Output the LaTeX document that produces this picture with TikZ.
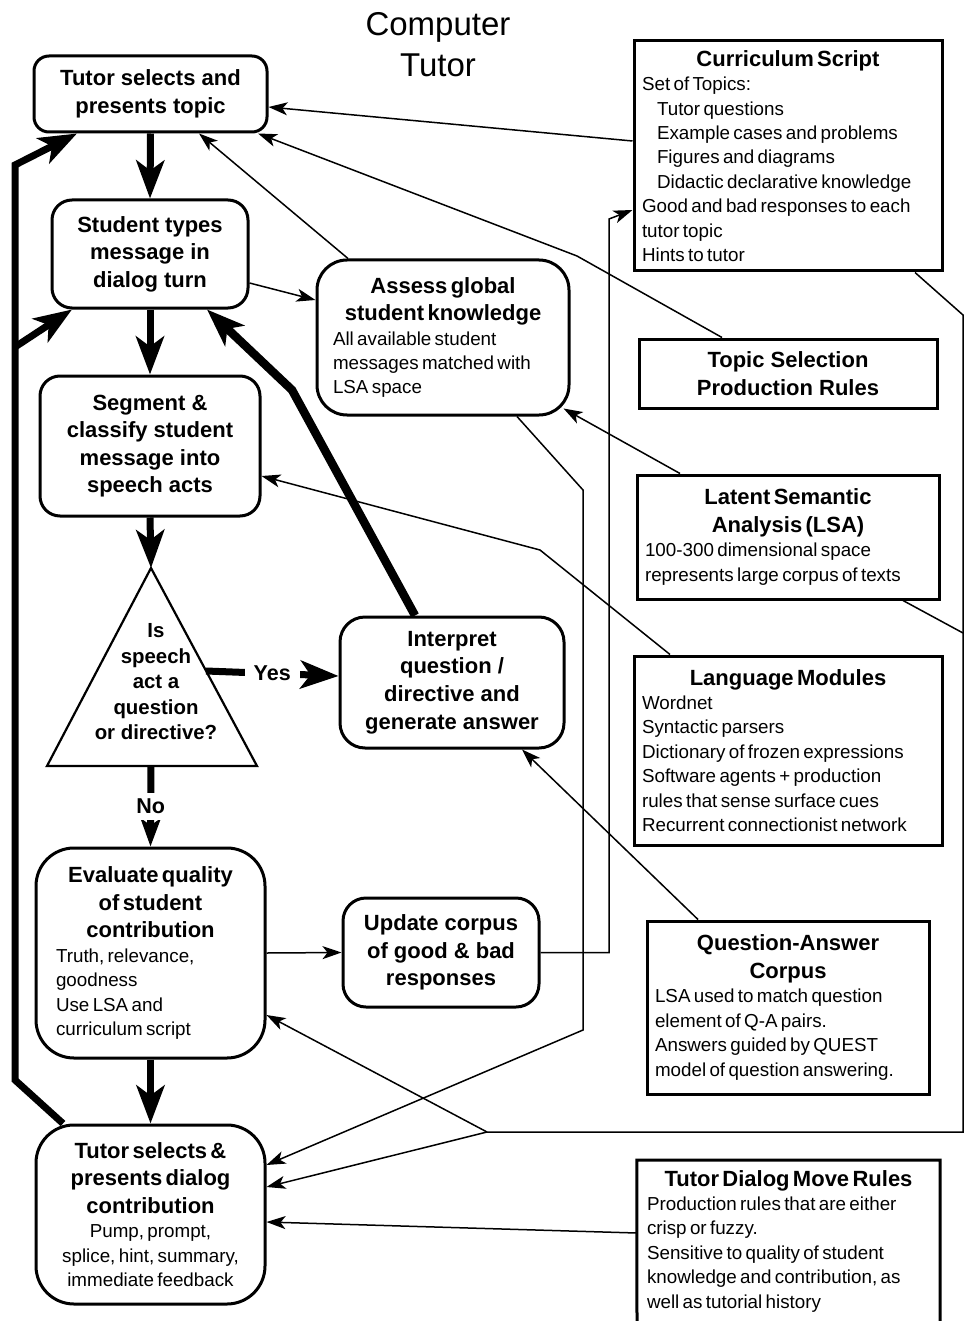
\documentclass[tikz,border=0pt]{standalone}
\usepackage{fontspec}
\setmainfont{Liberation Sans}
\usetikzlibrary{arrows.meta}
\setlength\parindent{0pt}
\newcommand\bsz{\fontsize{22}{27.6}\selectfont\bfseries}
\newcommand\ssz{\fontsize{18.8}{24.4}\selectfont\mdseries}
\newcommand\tsz{\fontsize{20.4}{25.5}\selectfont\bfseries}
\begin{document}
\begin{tikzpicture}[x=1pt,y=-1pt,
  rbox/.style={draw, line width=3pt, inner sep=0pt, align=center, font=\bsz},
  mbox/.style={draw, line width=3pt, inner ysep=0pt, align=left},
  flow/.style={line width=7pt, -{Stealth[length=38pt,width=28pt,inset=10pt]}},
  link/.style={line width=1.5pt, -{Stealth[length=19pt,width=13pt,inset=5pt]}},
  plain/.style={line width=1.5pt},
  lbl/.style={fill=white, font=\fontsize{21.5}{26}\selectfont\bfseries, inner xsep=9pt, inner ysep=6pt},
]
\useasboundingbox (0,0) rectangle (965,1321);

% title
\node[align=center, font=\fontsize{33}{41}\selectfont] (title) at (438,45) {Computer\\Tutor};

% left flow boxes
\node[rbox, rounded corners=15pt, minimum width=233pt, minimum height=76pt] (topic) at (150.5,94) {Tutor selects and\\presents topic};
\node[rbox, rounded corners=20pt, minimum width=196pt, minimum height=108pt] (stud) at (150,254) {Student types\\message in\\dialog turn};
\node[rbox, rounded corners=20pt, minimum width=220pt, minimum height=140pt] (seg) at (150,446) {Segment \&\\classify student\\message into\\speech acts};
\node[rbox, rounded corners=25pt, minimum width=224pt, minimum height=131pt] (interp) at (452,682.5) {Interpret\\question /\\directive and\\generate answer};
\node[rbox, rounded corners=23pt, minimum width=196pt, minimum height=109pt] (upd) at (441,952.5) {Update corpus\\of good \& bad\\responses};

\node[mbox, rounded corners=30pt, minimum width=252pt, minimum height=155pt, inner xsep=16pt, text width=220pt] (assess) at (443,337.5)
  {{\centering\bsz Assess global\\student knowledge\par}\ssz All available student\\messages matched with\\LSA space\par};
\node[mbox, rounded corners=38pt, minimum width=229pt, minimum height=210pt, inner xsep=20pt, text width=189pt] (eval) at (150.5,953)
  {{\centering\bsz Evaluate quality\\of student\\contribution\par}\ssz Truth, relevance,\\goodness\\Use LSA and\\curriculum script\par};
\node[draw, line width=3pt, rounded corners=38pt, minimum width=229pt, minimum height=179pt, inner xsep=10pt, inner ysep=0pt, text width=209pt, align=center] (tds) at (150.5,1214.5)
  {{\bsz Tutor selects \&\\presents dialog\\contribution\par}\ssz Pump, prompt,\\splice, hint, summary,\\immediate feedback\par};

% triangle
\coordinate (triA) at (151,568);
\coordinate (triL) at (47,766);
\coordinate (triR) at (257,766);
\coordinate (triB) at (151,766);
\coordinate (triY) at (206,671);
\draw[line width=2.2pt] (triA) -- (triR) -- (triL) -- cycle;
\node[align=center, font=\tsz] (qtext) at (156,682) {Is\\speech\\act a\\question\\or directive?};

% right boxes
\node[mbox, minimum width=308pt, minimum height=230pt, inner xsep=8pt, text width=292pt] (cur) at (788,156)
  {{\centering\bsz Curriculum Script\par}\ssz Set of Topics:\\\hspace*{15pt}Tutor questions\\\hspace*{15pt}Example cases and problems\\\hspace*{15pt}Figures and diagrams\\\hspace*{15pt}Didactic declarative knowledge\\Good and bad responses to each\\tutor topic\\Hints to tutor\par};
\node[rbox, minimum width=298pt, minimum height=69pt] (tsp) at (788,373.5) {Topic Selection\\Production Rules};
\node[mbox, minimum width=302pt, minimum height=124pt, inner xsep=8pt, text width=286pt] (lsa) at (788,537)
  {{\centering\bsz Latent Semantic\\Analysis (LSA)\par}\ssz 100-300 dimensional space\\represents large corpus of texts\par};
\node[mbox, minimum width=308pt, minimum height=189pt, inner xsep=8pt, text width=292pt] (lang) at (788,750.5)
  {{\centering\bsz Language Modules\par}\ssz Wordnet\\Syntactic parsers\\Dictionary of frozen expressions\\Software agents + production\\rules that sense surface cues\\Recurrent connectionist network\par};
\node[mbox, minimum width=282pt, minimum height=173pt, inner xsep=8pt, text width=266pt] (qa) at (788,1007.5)
  {{\centering\bsz Question-Answer\\Corpus\par}\ssz LSA used to match question\\element of Q-A pairs.\\Answers guided by QUEST\\model of question answering.\par};
\node[anchor=north, inner xsep=10pt, inner ysep=10pt, text width=283pt, align=left] (tdm) at (788.5,1160)
  {{\centering\bsz Tutor Dialog Move Rules\par}\ssz Production rules that are either\\crisp or fuzzy.\\Sensitive to quality of student\\knowledge and contribution, as\\well as tutorial history\par};
\coordinate (tdmL) at (637,1321);
\coordinate (tdmR) at (940,1321);
\draw[line width=3pt] (tdmL) -- (tdm.north west) -- (tdm.north east) -- (tdmR);

% bend points
\coordinate (b1) at (292,390);
\coordinate (L1) at (15,1080);
\coordinate (L2) at (15,165);
\coordinate (L3) at (15,347);
\coordinate (t1) at (577,256);
\coordinate (n1) at (540,550);
\coordinate (p1) at (609,952.5);
\coordinate (p2) at (609,219);
\coordinate (r1) at (583,490);
\coordinate (r2) at (583,1030);
\coordinate (s1) at (963,315);
\coordinate (s2) at (963,1132);
\coordinate (s3) at (487,1132);
\coordinate (s4) at (963,633);

% main flow
\draw[flow] (topic.south) -- (stud.north);
\draw[flow] (stud.south) -- (seg.north);
\draw[flow] (seg.south) -- (triA);
\draw[line width=7pt, -{Stealth[length=28pt,width=20pt,inset=7pt]}] (triB) -- node[lbl] (no) {No} (eval.north);
\draw[flow] (triY) -- node[lbl] (yes) {Yes} ([yshift=6.5pt]interp.west);
\draw[flow] (eval.south) -- (tds.north);
\draw[flow, line width=8.5pt] ([xshift=-37pt]interp.north) -- (b1) -- ([xshift=57pt]stud.south);
\draw[flow] ([xshift=-87.5pt]tds.north) -- (L1) -- (L2) -- ([xshift=-73.5pt]topic.south);
\draw[flow] (L3) -- ([xshift=-78pt]stud.south);

% thin links
\draw[link] ([yshift=-29pt]stud.east) -- ([yshift=37.5pt]assess.west);
\draw[link] ([xshift=-95pt]assess.north) -- ([xshift=48.5pt]topic.south);
\draw[link] ([yshift=15pt]cur.west) -- ([yshift=-13pt]topic.east);
\draw[link] ([xshift=-66pt]tsp.north) -- (t1) -- ([xshift=107.5pt]topic.south);
\draw[link] ([xshift=-108pt]lsa.north) -- ([xshift=-7pt,yshift=8pt]assess.south east);
\draw[link] ([xshift=-118pt]lang.north) -- (n1) -- ([yshift=-30pt]seg.east);
\draw[link] ([xshift=-90pt]qa.north) -- ([xshift=70pt]interp.south);
\draw[link] (upd.east) -- (p1) -- (p2) -- ([yshift=-54pt]cur.west);
\draw[link] (eval.east) -- (upd.west);
\draw[link] ([xshift=74pt]assess.south) -- (r1) -- (r2) -- ([yshift=49.5pt]tds.east);
\draw[plain] ([xshift=127pt]cur.south) -- (s1) -- (s2) -- (s3);
\draw[plain] ([xshift=115pt]lsa.south) -- (s4);
\draw[link] (s3) -- ([yshift=-62pt]eval.east);
\draw[link] (s3) -- ([yshift=27.5pt]tds.east);
\draw[link] ([yshift=-73pt]tdm.north west) -- ([yshift=-7.5pt]tds.east);
\end{tikzpicture}
\end{document}
